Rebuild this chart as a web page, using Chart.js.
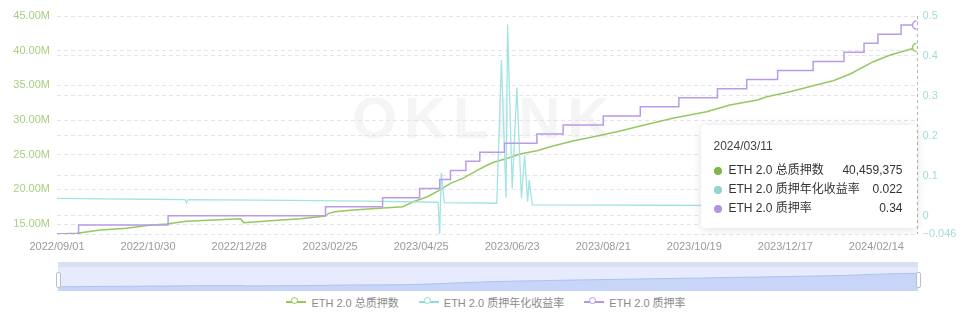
<!DOCTYPE html>
<html>
<head>
<meta charset="utf-8">
<script src="https://cdn.jsdelivr.net/npm/chart.js@4.4.1/dist/chart.umd.min.js"></script>
<style>
  html, body { margin: 0; padding: 0; background: #fff; }
  body {
    width: 972px; height: 318px; position: relative; overflow: hidden;
    font-family: 'Liberation Sans', 'Noto Sans CJK SC', sans-serif;
  }
  #watermark {
    position: absolute; left: 352px; top: 84px;
    font: 900 58px 'Liberation Sans', sans-serif; letter-spacing: 7px;
    color: #f5f5f5; user-select: none;
  }
  #mainWrap { position: absolute; left: 0; top: 0; width: 972px; height: 258px; }
  #slider { position: absolute; left: 58px; top: 262px; width: 860px; height: 29px; background: #e6ecfd; }
  #sliderTop { position: absolute; left: 0; top: 0; width: 100%; height: 5px; background: #d9e0f4; }
  #miniWrap { position: absolute; left: 0; top: 0; width: 860px; height: 29px; }
  .handle {
    position: absolute; top: 10px; width: 3px; height: 14px;
    background: #fff; border: 1px solid #b8bfcf; border-radius: 2px;
  }
  #legend {
    position: absolute; left: 0; top: 294px; width: 972px; height: 16px;
    display: flex; justify-content: center; align-items: center;
    font-size: 11px; color: #8c8c8c;
  }
  .item { display: flex; align-items: center; margin: 0 10px; }
  .ico { position: relative; width: 20px; height: 2px; margin-right: 5px; }
  .ico::after {
    content: ''; position: absolute; left: 5px; top: -4px; width: 7px; height: 7px;
    box-sizing: border-box; border: 1.5px solid currentColor; border-radius: 50%; background: #fff;
  }
  #tip {
    position: absolute; display: none; width: 216px; box-sizing: border-box;
    padding: 12px 14px 10px 13px; background: #fff; border-radius: 4px;
    box-shadow: 0 1px 10px rgba(0,0,0,0.13); color: #333; font-size: 12px;
  }
  #tip .title { line-height: 18px; margin-bottom: 6px; color: #444; }
  #tip .row { display: flex; align-items: center; line-height: 19px; }
  #tip .dot { width: 8px; height: 8px; border-radius: 50%; margin-right: 7px; }
  #tip .lab { flex: 1; }
</style>
</head>
<body>
<div id="watermark">OKLINK</div>
<div id="mainWrap"><canvas id="mainChart"></canvas></div>
<div id="slider">
  <div id="sliderTop"></div>
  <div id="miniWrap"><canvas id="miniChart"></canvas></div>
</div>
<div class="handle" style="left:56px;top:272px"></div>
<div class="handle" style="left:916px;top:272px"></div>
<div id="legend"></div>
<div id="tip"></div>

<script>
// --- Data (x = days since 2022/09/01) ---
const seriesNames = ['ETH 2.0 总质押数', 'ETH 2.0 质押年化收益率', 'ETH 2.0 质押率'];

const totalStaked = [
  [0, 13560000], [13, 13660000], [28, 14130000], [45, 14380000], [60, 14810000],
  [71, 15000000], [84, 15390000], [119, 15760000], [121, 15190000], [143, 15530000],
  [158, 15760000], [174, 16150000], [176, 16540000], [180, 16770000], [192, 17020000],
  [209, 17260000], [224, 17490000], [231, 18210000], [240, 18940000], [248, 19900000],
  [255, 20870000], [263, 21590000], [272, 22690000], [279, 23510000], [283, 23900000],
  [292, 24480000], [300, 25100000], [311, 25570000], [322, 26290000], [335, 27010000],
  [350, 27690000], [365, 28410000], [378, 29130000], [399, 30240000], [421, 31200000],
  [436, 32160000], [454, 32880000], [460, 33360000], [475, 34080000], [490, 34950000],
  [503, 35670000], [514, 36630000], [529, 38410000], [540, 39370000], [557, 40459375]
];

const stakingYield = [
  [0, 0.0433], [30, 0.042], [60, 0.041], [83, 0.040], [84, 0.032], [85, 0.040],
  [150, 0.038], [200, 0.0365], [247, 0.0335], [248, -0.046], [249, 0.107], [251, 0.0325],
  [285, 0.031], [288, 0.39], [291, 0.045], [292, 0.479], [295, 0.068], [298, 0.32],
  [301, 0.043], [303, 0.152], [305, 0.035], [306, 0.089], [308, 0.027], [400, 0.026],
  [480, 0.024], [557, 0.022]
];

const stakingRatio = [
  [0, 0.11], [14, 0.12], [72, 0.13], [174, 0.14], [211, 0.15], [235, 0.16], [248, 0.17],
  [255, 0.18], [265, 0.19], [274, 0.20], [290, 0.21], [311, 0.22], [328, 0.23], [354, 0.24],
  [378, 0.25], [403, 0.26], [428, 0.27], [447, 0.28], [467, 0.29], [490, 0.30], [510, 0.31],
  [523, 0.32], [532, 0.33], [547, 0.34], [557, 0.34]
];

const xTickDays   = [0, 59, 118, 177, 236, 295, 354, 413, 472, 531];
const xTickLabels = ['2022/09/01', '2022/10/30', '2022/12/28', '2023/02/25', '2023/04/25',
                     '2023/06/23', '2023/08/21', '2023/10/19', '2023/12/17', '2024/02/14'];
const leftTicks   = [15e6, 20e6, 25e6, 30e6, 35e6, 40e6, 45e6];
const rightTicks  = [-0.046, 0, 0.1, 0.2, 0.3, 0.4, 0.5];
const rightLabels = ['\u22120.046', '0', '0.1', '0.2', '0.3', '0.4', '0.5'];

const GREEN  = '#96c862';
const CYAN   = '#a3e3e3';
const PURPLE = '#b99be8';
const DOTS   = ['#7fb54a', '#8fd3d3', '#b294e2'];
const GRID   = '#e4e4ee';

const lastDay = 557;
const startMs = Date.UTC(2022, 8, 1);

const $ = id => document.getElementById(id);
const pad = n => String(n).padStart(2, '0');

function dayToDate(d) {
  const t = new Date(startMs + d * 86400000);
  return t.getUTCFullYear() + '/' + pad(t.getUTCMonth() + 1) + '/' + pad(t.getUTCDate());
}

function formatVal(i, v) {
  return i === 0 ? Math.round(v).toLocaleString('en-US') : String(v);
}

Chart.defaults.font.family = "'Liberation Sans', 'Noto Sans CJK SC', sans-serif";

// --- Legend ---
[GREEN, '#8fdcdc', '#b597e6'].forEach((c, i) => {
  const item = document.createElement('div');
  item.className = 'item';
  item.innerHTML = `<span class="ico" style="background:${c};color:${c}"></span><span>${seriesNames[i]}</span>`;
  $('legend').appendChild(item);
});

// --- Tooltip (html) ---
function renderTip({ chart, tooltip }) {
  const el = $('tip');
  if (!tooltip.dataPoints || !tooltip.dataPoints.length) { el.style.display = 'none'; return; }
  const pts = tooltip.dataPoints.slice().sort((a, b) => a.datasetIndex - b.datasetIndex);
  let html = `<div class="title">${dayToDate(pts[0].raw.x)}</div>`;
  pts.forEach(p => {
    html += `<div class="row"><span class="dot" style="background:${DOTS[p.datasetIndex]}"></span>` +
            `<span class="lab">${p.dataset.label}</span><span>${formatVal(p.datasetIndex, p.raw.y)}</span></div>`;
  });
  el.innerHTML = html;
  el.style.display = 'block';
  el.style.left = (chart.canvas.offsetLeft + tooltip.caretX - 216) + 'px';
  el.style.top = '125px';
}

// --- Axis pointer ---
const pointerLine = {
  id: 'pointerLine',
  beforeDatasetsDraw(chart) {
    const act = chart.getActiveElements();
    if (!act.length) return;
    const x = act[0].element.x;
    const { top, bottom } = chart.chartArea;
    const ctx = chart.ctx;
    ctx.save();
    ctx.setLineDash([3, 3]);
    ctx.strokeStyle = '#b5b5b5';
    ctx.lineWidth = 1;
    ctx.beginPath();
    ctx.moveTo(Math.round(x) + 0.5, top);
    ctx.lineTo(Math.round(x) + 0.5, bottom);
    ctx.stroke();
    ctx.restore();
  }
};

function lineSet(label, rows, color, axis, order, extra) {
  return Object.assign({
    label,
    data: rows.map(([x, y]) => ({ x, y })),
    yAxisID: axis,
    order,
    borderColor: color,
    borderWidth: 1.5,
    pointRadius: 0,
    pointHoverRadius: 4,
    pointHoverBorderWidth: 1.5,
    pointHoverBackgroundColor: '#fff',
    pointHoverBorderColor: color,
    tension: 0,
    fill: false,
  }, extra || {});
}

const chart = new Chart($('mainChart'), {
  type: 'line',
  data: {
    datasets: [
      lineSet(seriesNames[0], totalStaked, GREEN, 'y', 3),
      lineSet(seriesNames[1], stakingYield, CYAN, 'yR', 2, { borderWidth: 1.3 }),
      lineSet(seriesNames[2], stakingRatio, PURPLE, 'yP', 1, { stepped: true }),
    ],
  },
  options: {
    responsive: true,
    maintainAspectRatio: false,
    animation: false,
    events: [],
    layout: { padding: { top: 16, left: 0, right: 0, bottom: 0 } },
    plugins: {
      legend: { display: false },
      tooltip: { enabled: false, mode: 'index', external: renderTip },
    },
    scales: {
      x: {
        type: 'linear', min: 0, max: lastDay,
        grid: { display: false, drawTicks: false },
        border: { display: false },
        afterBuildTicks: s => { s.ticks = xTickDays.map(v => ({ value: v })); },
        afterFit: s => { s.height = 24; },
        ticks: {
          padding: 6, color: '#9a9a9a', font: { size: 11 }, maxRotation: 0, autoSkip: false,
          callback: (v, i) => xTickLabels[i],
        },
      },
      y: {
        position: 'left',
        min: Math.min(...totalStaked.map(r => r[1])), max: 45e6,
        grid: { color: GRID, drawTicks: false },
        border: { display: false, dash: [4, 3] },
        afterBuildTicks: s => { s.ticks = leftTicks.map(v => ({ value: v })); },
        afterFit: s => { s.width = 57; },
        ticks: {
          padding: 7, color: '#a8cf80', font: { size: 11 },
          callback: v => (v / 1e6).toFixed(2) + 'M',
        },
      },
      yR: {
        position: 'right',
        min: -0.046, max: 0.5,
        grid: { color: GRID, drawTicks: false },
        border: { display: false, dash: [4, 3] },
        afterBuildTicks: s => { s.ticks = rightTicks.map(v => ({ value: v })); },
        afterFit: s => { s.width = 55.5; },
        ticks: {
          padding: 6, color: '#a3dcdc', font: { size: 11 },
          callback: (v, i) => rightLabels[i],
        },
      },
      yP: { display: false, position: 'right', min: 0.11, max: 0.35 },
    },
  },
  plugins: [pointerLine],
});

// show the tooltip on the last day
const active = [totalStaked, stakingYield, stakingRatio].map((rows, i) => ({ datasetIndex: i, index: rows.length - 1 }));
chart.setActiveElements(active);
const pt = chart.getDatasetMeta(0).data[totalStaked.length - 1];
chart.tooltip.setActiveElements(active, { x: pt.x, y: pt.y });
chart.update('none');

// --- Data zoom preview ---
new Chart($('miniChart'), {
  type: 'line',
  data: {
    datasets: [{
      data: totalStaked.map(([x, y]) => ({ x, y })),
      borderColor: '#adc1f1',
      borderWidth: 1,
      backgroundColor: '#c8d5f8',
      fill: 'start',
      pointRadius: 0,
      tension: 0,
    }],
  },
  options: {
    responsive: true,
    maintainAspectRatio: false,
    animation: false,
    events: [],
    layout: { padding: 0 },
    plugins: { legend: { display: false }, tooltip: { enabled: false } },
    scales: {
      x: { type: 'linear', display: false, min: 0, max: lastDay },
      y: { display: false, min: 5e6, max: 63e6 },
    },
  },
});
</script>
</body>
</html>
